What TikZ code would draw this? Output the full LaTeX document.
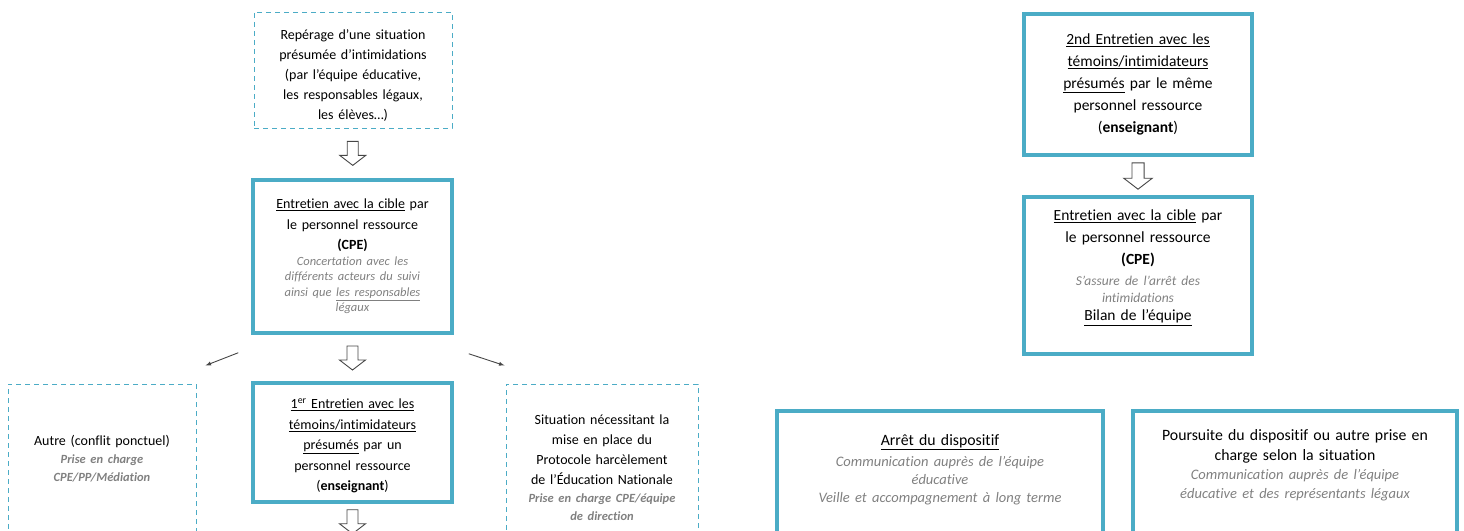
\documentclass[tikz,border=0pt]{standalone}
\usepackage{fontspec}
\setmainfont{Carlito}[Ligatures={NoCommon,NoContextual}, Contextuals=NoAlternate]
\usetikzlibrary{calc}

\definecolor{cadre}{RGB}{75,172,198}
\definecolor{gristexte}{RGB}{128,128,128}
\definecolor{fleche}{RGB}{70,70,70}

% gray italic notes inside the boxes
\newcommand{\remarque}{\color{gristexte}\itshape\fontsize{12.5}{15.5}\selectfont}
\newcommand{\remarquegras}{\color{gristexte}\itshape\bfseries\fontsize{12.5}{18}\selectfont}

\tikzset{
  etape/.style={draw=cadre, line width=3.5pt, align=center, inner xsep=0pt, inner ysep=0pt,
    font=\fontsize{14}{20.5}\selectfont},
  piste/.style={draw=cadre, line width=1pt, dash pattern=on 5pt off 4pt, align=center,
    inner xsep=0pt, inner ysep=0pt, font=\fontsize{14}{20}\selectfont},
  grande/.style={font=\fontsize{15.5}{22}\selectfont},
  bas/.style={font=\fontsize{15.8}{20}\selectfont, anchor=north},
  hollowarrow/.pic={
    \draw[fleche, line width=0.9pt, fill=white]
      (-5.5,-12)--(-5.5,2)--(-13,2)--(0,12)--(13,2)--(5.5,2)--(5.5,-12)--cycle;
  }
}

\begin{document}
\begin{tikzpicture}[x=1pt, y=-1pt]
  \useasboundingbox (0,0) rectangle (1464,530);
  \clip (0,0) rectangle (1464,530);

  % left column
  \node[piste, text width=198, minimum height=116] (reperage) at (353,70)
    {\rule{0pt}{21pt}Repérage d’une situation\\présumée d’intimidations\\(par l’équipe éducative,\\les responsables légaux,\\les élèves…)};
  \node[etape, text width=199, minimum height=153] (cible) at (352.5,256.5)
    {\underline{Entretien avec la cible} par\\le personnel ressource\\\textbf{(CPE)}\par
     {\remarque Concertation avec les\\différents acteurs du suivi\\ainsi que \underline{les responsables}\\légaux\par}};
  \node[etape, text width=199, minimum height=119] (temoins1) at (352.5,442.5)
    {\rule{0pt}{17pt}\underline{1\textsuperscript{er} Entretien avec les}\\\underline{témoins/intimidateurs}\\\underline{présumés} par un\\personnel ressource\\(\textbf{enseignant})};
  \node[piste, text width=188, minimum height=150] (autre) at (102,459)
    {Autre (conflit ponctuel)\par{\remarquegras Prise en charge\\CPE/PP/Médiation\par}};
  \node[piste, text width=192, minimum height=168] (protocole) at (602,468)
    {Situation nécessitant la\\mise en place du\\Protocole harcèlement\\de l’Éducation Nationale\par
     {\remarquegras Prise en charge CPE/équipe\\de direction\par}};

  \pic at ($(reperage.south)!0.5!(cible.north)$) {hollowarrow};
  \pic at ($(cible.south)!0.5!(temoins1.north)$) {hollowarrow};
  \pic at ($(temoins1.south)+(0,18)$) {hollowarrow};
  \draw[fleche, line width=0.9pt, -latex] ([shift={(-13,18)}]cible.south west) -- ([shift={(9,-18)}]autre.north east);
  \draw[fleche, line width=0.9pt, -latex] ([shift={(15,19)}]cible.south east) -- ([shift={(-1,-18)}]protocole.north west);

  % right column
  \node[etape, grande, text width=228, minimum height=141] (temoins2) at (1138,84.5)
    {\underline{2nd Entretien avec les}\\\underline{témoins/intimidateurs}\\\underline{présumés} par le même\\personnel ressource\\(\textbf{enseignant})};
  \node[etape, grande, text width=228, minimum height=157] (cible2) at (1138,275.5)
    {\underline{Entretien avec la cible} par\\le personnel ressource\\\textbf{(CPE)}\par\vspace{4pt}
     {\remarque\fontsize{13.5}{17}\selectfont S’assure de l’arrêt des\\intimidations\par}
     {\fontsize{15.5}{18}\selectfont\underline{Bilan de l’équipe}\rule[-20pt]{0pt}{0pt}\par}};
  \pic[scale=1.1] at ($(temoins2.south)!0.5!(cible2.north)$) {hollowarrow};

  % bottom boxes
  \node[etape, bas, text width=326, inner ysep=24pt] (arret) at (940,409)
    {\underline{Arrêt du dispositif}\par\vspace{3pt}
     {\remarque\fontsize{14.5}{18}\selectfont Communication auprès de l’équipe\\éducative\\Veille et accompagnement à long terme\rule[-50pt]{0pt}{0pt}\par}};
  \node[etape, bas, text width=324, inner ysep=19pt] (poursuite) at (1295,409)
    {Poursuite du dispositif ou autre prise en\\charge selon la situation\par
     {\remarque\fontsize{14.5}{19}\selectfont Communication auprès de l’équipe\\éducative et des représentants légaux\rule[-50pt]{0pt}{0pt}\par}};
\end{tikzpicture}
\end{document}
